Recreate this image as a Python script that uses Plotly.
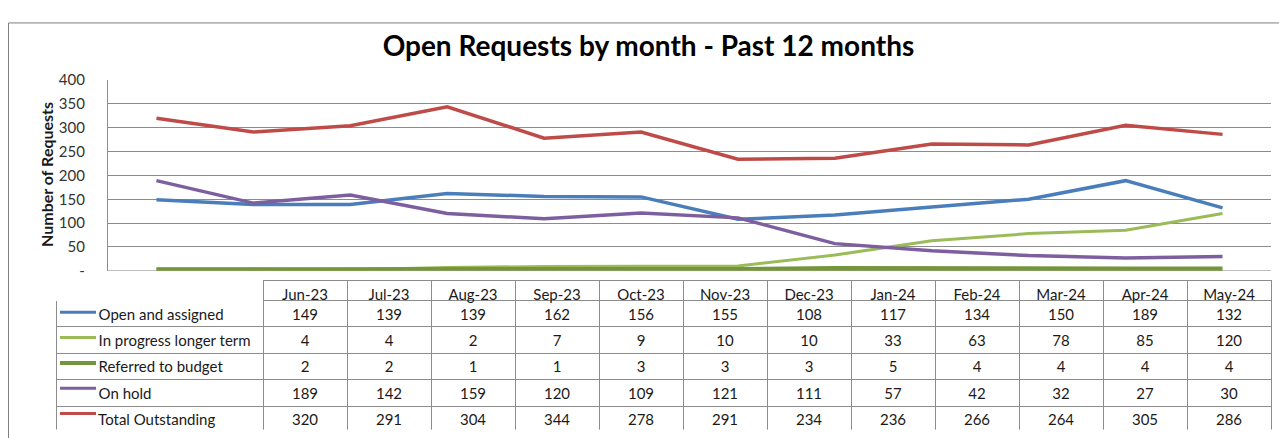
import plotly.graph_objects as go

months = ["Jun-23", "Jul-23", "Aug-23", "Sep-23", "Oct-23", "Nov-23",
          "Dec-23", "Jan-24", "Feb-24", "Mar-24", "Apr-24", "May-24"]
series_names = ["Open and assigned", "In progress longer term", "Referred to budget",
                "On hold", "Total Outstanding"]
open_assigned = [149, 139, 139, 162, 156, 155, 108, 117, 134, 150, 189, 132]
in_progress = [4, 4, 2, 7, 9, 10, 10, 33, 63, 78, 85, 120]
referred_budget = [2, 2, 1, 1, 3, 3, 3, 5, 4, 4, 4, 4]
on_hold = [189, 142, 159, 120, 109, 121, 111, 57, 42, 32, 27, 30]
total_outstanding = [320, 291, 304, 344, 278, 291, 234, 236, 266, 264, 305, 286]
y_tick_vals = [0, 50, 100, 150, 200, 250, 300, 350, 400]
y_tick_text = ["-", "50", "100", "150", "200", "250", "300", "350", "400"]

colors = ["#4A7EBB", "#9BBB59", "#74953C", "#7D5FA0", "#BE4B48"]
widths = [3.5, 3, 5, 3.5, 3.5]
key_widths = [3, 3, 4, 3, 3]
all_series = [open_assigned, in_progress, referred_budget, on_hold, total_outstanding]

W, H = 1279, 438
FONT = "Lato, 'Open Sans', sans-serif"
GRID = "#8c8c8c"

# table geometry (pixels)
TABLE_LEFT, TABLE_RIGHT, TABLE_TOP = 56, 1271, 282
HEADER_H, ROW_H = 20, 26.4

def px_x(p):
    return p / W

def px_y(p):
    return 1 - p / H

fig = go.Figure()
for name, vals, c, w in zip(series_names, all_series, colors, widths):
    fig.add_trace(go.Scatter(x=months, y=vals, mode="lines", name=name,
                             line=dict(color=c, width=w), showlegend=False,
                             xaxis="x", yaxis="y"))

# data table; labels use non-breaking spaces so the table never re-wraps them,
# with a leading gap that leaves room for the legend key line
label_cells = ["\u00a0" * 9 + n.replace(" ", "\u00a0") for n in series_names]
columns = [label_cells] + [[str(s[i]) for s in all_series] for i in range(len(months))]
fig.add_trace(go.Table(
    domain=dict(x=[px_x(TABLE_LEFT), px_x(TABLE_RIGHT)],
                y=[0, px_y(TABLE_TOP)]),
    columnwidth=[207] + [84] * len(months),
    header=dict(values=[""] + months,
                line=dict(color=["white"] + [GRID] * len(months), width=1),
                fill=dict(color="white"),
                align="center", height=HEADER_H,
                font=dict(family=FONT, size=15, color="#1a1a1a")),
    cells=dict(values=columns,
               line=dict(color=GRID, width=1),
               fill=dict(color="white"),
               align=["left"] + ["center"] * len(months), height=ROW_H,
               font=dict(family=FONT, size=15, color="#1a1a1a")),
))

# legend key lines inside the first table column
key_shapes = []
for i, (c, kw) in enumerate(zip(colors, key_widths)):
    yc = TABLE_TOP + HEADER_H + ROW_H * (i + 0.5)
    key_shapes.append(dict(type="line", xref="paper", yref="paper",
                           x0=px_x(TABLE_LEFT + 4), x1=px_x(TABLE_LEFT + 40),
                           y0=px_y(yc), y1=px_y(yc),
                           line=dict(color=c, width=kw), layer="above"))

fig.update_layout(
    width=W, height=H,
    margin=dict(l=0, r=0, t=0, b=0),
    paper_bgcolor="white", plot_bgcolor="white",
    font=dict(family=FONT, color="#404040"),
    title=dict(text="<b>Open Requests by month - Past 12 months</b>",
               x=0.507, xanchor="center", y=px_y(46), yanchor="middle",
               font=dict(family=FONT, size=28, color="black")),
    xaxis=dict(domain=[px_x(108), px_x(1271)], range=[-0.5, 11.5],
               showticklabels=False, showgrid=False, zeroline=False,
               showline=False, fixedrange=True),
    yaxis=dict(domain=[px_y(272), px_y(73)], range=[0, 400],
               tickvals=y_tick_vals, ticktext=y_tick_text,
               showgrid=True, gridcolor=GRID, gridwidth=1.2,
               zeroline=False, showline=True, linecolor=GRID, linewidth=1.2,
               ticks="", ticklabelstandoff=19,
               tickfont=dict(family=FONT, size=15, color="#333333")),
    shapes=[
        dict(type="rect", xref="paper", yref="paper",
             x0=px_x(8.5), x1=1.2, y0=-0.2, y1=px_y(13.5),
             line=dict(color="#7f7f7f", width=1), fillcolor="rgba(0,0,0,0)",
             layer="below"),
        dict(type="line", xref="paper", yref="y",
             x0=px_x(108), x1=px_x(1271), y0=0, y1=0,
             line=dict(color=GRID, width=1.2), layer="below"),
    ] + key_shapes,
    annotations=[
        dict(text="<b>Number of Requests</b>", textangle=-90,
             xref="paper", yref="paper", x=px_x(47), y=px_y(172),
             xanchor="center", yanchor="middle", showarrow=False,
             font=dict(family=FONT, size=16, color="#1a1a1a")),
    ],
)

fig.write_html("out.html", config={"displayModeBar": False},
               post_script="document.body.style.margin='0';document.body.style.overflow='hidden';")
